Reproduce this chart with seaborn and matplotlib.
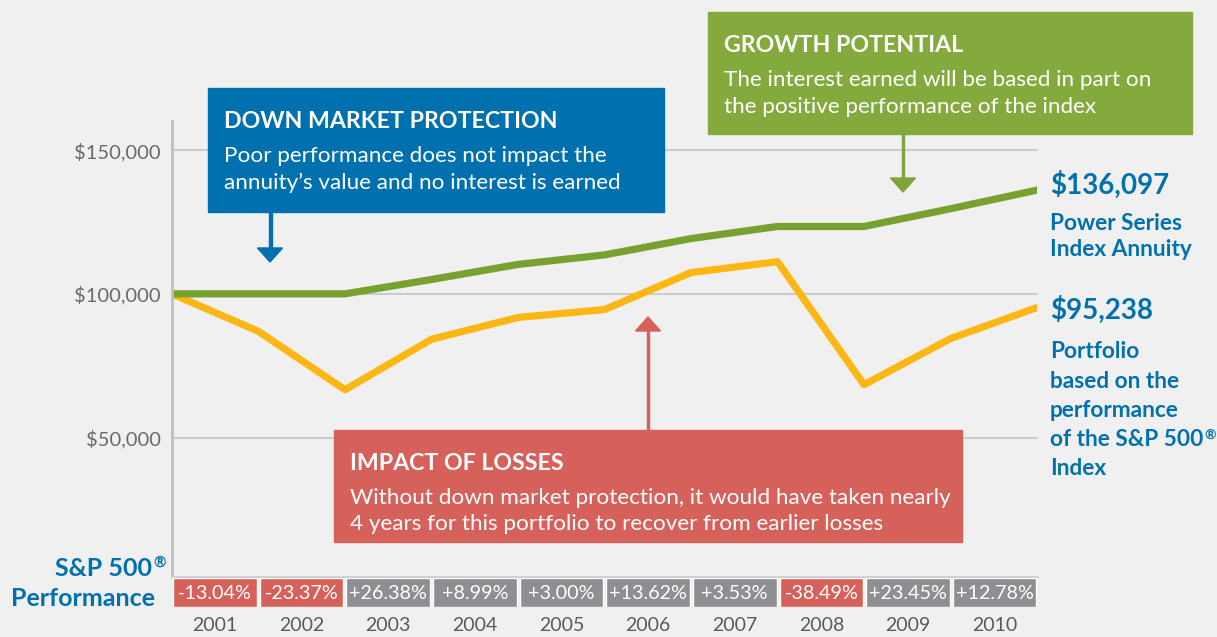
import numpy as np
import pandas as pd
import seaborn as sns
import matplotlib.pyplot as plt
from matplotlib.patches import Rectangle, Polygon

# Values (ending value of each year, $100,000 start in 2000)
years = [2000, 2001, 2002, 2003, 2004, 2005, 2006, 2007, 2008, 2009, 2010]
annuity = [100000, 100000, 100000, 105000, 110250, 113558, 119235, 123444, 123444, 129616, 136097]
sp500 = [100000, 86960, 66637, 84216, 91787, 94541, 107418, 111210, 68405, 84446, 95238]

perf_years = ['2001', '2002', '2003', '2004', '2005', '2006', '2007', '2008', '2009', '2010']
perf_values = [-13.04, -23.37, 26.38, 8.99, 3.00, 13.62, 3.53, -38.49, 23.45, 12.78]
perf_labels = ['-13.04%', '-23.37%', '+26.38%', '+8.99%', '+3.00%',
               '+13.62%', '+3.53%', '-38.49%', '+23.45%', '+12.78%']

y_ticks = [50000, 100000, 150000]
y_ticklabels = ['$50,000', '$100,000', '$150,000']

BG = '#f0f0f0'
BLUE = '#0071ae'
GREEN_BOX = '#84aa3d'
GREEN_LINE = '#78a22f'
YELLOW = '#fdb714'
RED = '#d6615a'
GRAY_CELL = '#8e8f93'

W, H = 1217, 637

sns.set_theme(style='white')
plt.rcParams['font.family'] = ['Lato', 'DejaVu Sans']

fig = plt.figure(figsize=(W / 100, H / 100), dpi=100, facecolor=BG)


def fx(x):
    return x / W


def fy(y):
    return 1 - y / H


# main line chart
ax = fig.add_axes([fx(172), fy(577), (1037 - 172) / W, (577 - 121.4) / H])
ax.set_facecolor(BG)

df = pd.DataFrame({
    'Year': years * 2,
    'Value': sp500 + annuity,
    'Series': ['S&P 500'] * len(years) + ['Annuity'] * len(years),
})
sns.lineplot(data=df, x='Year', y='Value', hue='Series',
             palette={'S&P 500': YELLOW, 'Annuity': GREEN_LINE},
             linewidth=5.2, legend=False, ax=ax)

ax.set_xlim(2000, 2010)
ax.set_ylim(1500, 160000)
ax.set_yticks(y_ticks)
ax.set_yticklabels(y_ticklabels)
ax.set_xticks([])
ax.set_xlabel('')
ax.set_ylabel('')
ax.yaxis.grid(True, color='#c4c4c4', linewidth=1.2)
ax.set_axisbelow(True)
ax.tick_params(axis='y', length=0, pad=8, labelsize=14.5, labelcolor='#6a6a6a')
for s in ['top', 'right']:
    ax.spines[s].set_visible(False)
ax.spines['left'].set_color('#bfbfbf')
ax.spines['left'].set_linewidth(2)
ax.spines['bottom'].set_color('#cfcfcf')
ax.spines['bottom'].set_linewidth(2)

# performance table
tab = fig.add_axes([fx(171.5), fy(607), (1038 - 171.5) / W, (607 - 578) / H])
tab.set_facecolor(BG)
cell_colors = [RED if v < 0 else GRAY_CELL for v in perf_values]
tdf = pd.DataFrame({'Year': perf_years, 'h': [1] * len(perf_years)})
sns.barplot(data=tdf, x='Year', y='h', hue='Year', palette=cell_colors,
            width=0.965, legend=False, ax=tab, saturation=1)
tab.set_xlim(-0.5, len(perf_years) - 0.5)
tab.set_ylim(0, 1)
tab.set_yticks([])
tab.set_xlabel('')
tab.set_ylabel('')
for s in tab.spines.values():
    s.set_visible(False)
tab.tick_params(axis='x', length=0, pad=7, labelsize=14, labelcolor='#5a5a5a')
for i, lab in enumerate(perf_labels):
    tab.text(i, 0.47, lab, ha='center', va='center', color='white', fontsize=14.2)


def reg_mark(txt, size=10, rise=9):
    # small raised registered sign right after a text
    fig.canvas.draw()
    bb = txt.get_window_extent()
    fig.text(bb.x1 / W + 1 / W, (bb.y1 - 20 + rise) / H + 0.0, '\u00ae', ha='left',
             va='bottom', color=BLUE, fontsize=size, fontweight='bold',
             zorder=txt.get_zorder())


t = fig.text(fx(152), fy(569), 'S&P 500', ha='right', va='center', color=BLUE,
             fontsize=18, fontweight='bold')
reg_mark(t, size=11, rise=8)
fig.text(fx(155), fy(598), 'Performance', ha='right', va='center', color=BLUE,
         fontsize=18, fontweight='bold')


# call-out boxes
def box(x0, y0, x1, y1, color, title, lines, line_gap):
    fig.add_artist(Rectangle((fx(x0), fy(y1)), (x1 - x0) / W, (y1 - y0) / H,
                             transform=fig.transFigure, color=color, zorder=5))
    fig.text(fx(x0 + 16), fy(y0 + 34), title, ha='left', va='center', color='white',
             fontsize=16.7, fontweight='bold', zorder=6)
    for k, ln in enumerate(lines):
        fig.text(fx(x0 + 16), fy(y0 + 68 + k * line_gap), ln, ha='left', va='center',
                 color='white', fontsize=16.2, zorder=6)


def arrow(x, y_start, y_tip, color, half=12.5, head=14):
    d = 1 if y_tip > y_start else -1
    base = y_tip - d * head
    fig.add_artist(Rectangle((fx(x - 1.5), fy(max(y_start, base))), 3 / W,
                             abs(base - y_start) / H, transform=fig.transFigure,
                             color=color, zorder=5))
    fig.add_artist(Polygon([(fx(x - half), fy(base)), (fx(x + half), fy(base)),
                            (fx(x), fy(y_tip))], closed=True,
                           transform=fig.transFigure, color=color, zorder=5))


box(208, 88, 664, 212, BLUE, 'DOWN MARKET PROTECTION',
    ['Poor performance does not impact the',
     'annuity\u2019s value and no interest is earned'], 27)
arrow(270, 212, 262, BLUE)

box(708, 12, 1192, 134, GREEN_BOX, 'GROWTH POTENTIAL',
    ['The interest earned will be based in part on',
     'the positive performance of the index'], 27)
arrow(903, 134, 192, '#7ea43a')

box(334, 430, 962, 542, RED, 'IMPACT OF LOSSES',
    ['Without down market protection, it would have taken nearly',
     '4 years for this portfolio to recover from earlier losses'], 26)
arrow(648, 430, 317, RED)

# end labels
fig.text(fx(1050), fy(185), '$136,097', ha='left', va='center', color=BLUE,
         fontsize=20, fontweight='bold')
for k, ln in enumerate(['Power Series', 'Index Annuity']):
    fig.text(fx(1050), fy(223 + k * 26), ln, ha='left', va='center', color=BLUE,
             fontsize=16.3, fontweight='bold')
fig.text(fx(1050), fy(310), '$95,238', ha='left', va='center', color=BLUE,
         fontsize=20, fontweight='bold')
for k, ln in enumerate(['Portfolio', 'based on the', 'performance',
                        'of the S&P 500', 'Index']):
    t = fig.text(fx(1050), fy(352 + k * 29.2), ln, ha='left', va='center', color=BLUE,
                 fontsize=16.3, fontweight='bold')
    if ln.endswith('500'):
        reg_mark(t, size=10, rise=8)

fig.savefig('out.png', dpi=100, facecolor=BG)
